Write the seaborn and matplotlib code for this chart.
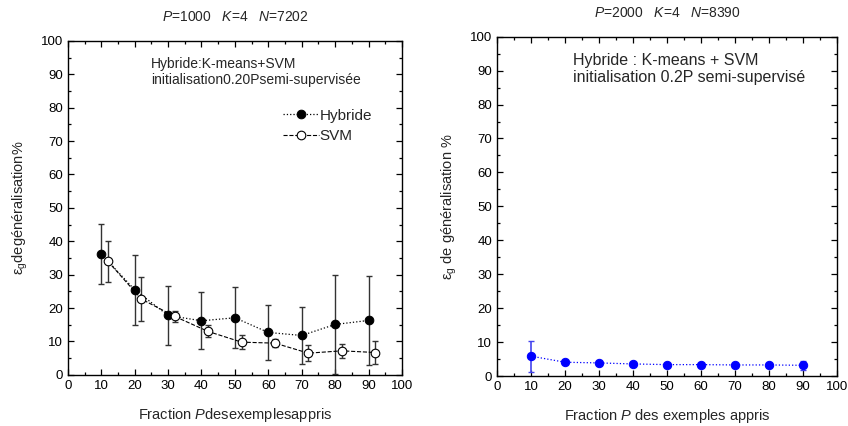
import matplotlib
matplotlib.use("Agg")
import matplotlib.pyplot as plt
import seaborn as sns
import numpy as np
import pandas as pd
from matplotlib.ticker import MultipleLocator

# ---- data ----
frac_hyb = [10, 20, 30, 40, 50, 60, 70, 80, 90]
err_hyb = [36.2, 25.5, 17.8, 16.2, 17.1, 12.7, 11.8, 15.1, 16.3]
sd_hyb = [9.0, 10.5, 8.8, 8.5, 9.1, 8.1, 8.6, 14.7, 13.2]

frac_svm = [12, 22, 32, 42, 52, 62, 72, 82, 92]
err_svm = [34.0, 22.7, 17.5, 13.0, 9.8, 9.5, 6.5, 7.2, 6.7]
sd_svm = [6.1, 6.5, 1.6, 1.8, 2.0, 1.1, 2.4, 2.1, 3.3]

frac_b = [10, 20, 30, 40, 50, 60, 70, 80, 90]
err_b = [5.9, 4.1, 3.9, 3.6, 3.4, 3.4, 3.3, 3.3, 3.2]
sd_b = [4.6, 0.4, 0.4, 0.4, 0.4, 0.4, 0.4, 0.4, 1.4]

sns.set_style("ticks")
plt.rcParams['font.family'] = ['Liberation Sans', 'DejaVu Sans']
plt.rcParams['mathtext.fontset'] = 'custom'
plt.rcParams['mathtext.rm'] = 'Liberation Sans'
plt.rcParams['mathtext.it'] = 'Liberation Sans:italic'

fig = plt.figure(figsize=(8.48, 4.26), dpi=100)
ax1 = fig.add_axes([0.080, 0.120, 0.394, 0.784])
ax2 = fig.add_axes([0.586, 0.117, 0.401, 0.797])


def style(ax):
    ax.set_xlim(0, 100)
    ax.set_ylim(0, 100)
    ax.xaxis.set_major_locator(MultipleLocator(10))
    ax.xaxis.set_minor_locator(MultipleLocator(5))
    ax.yaxis.set_major_locator(MultipleLocator(10))
    ax.yaxis.set_minor_locator(MultipleLocator(5))
    ax.tick_params(which='both', direction='in', top=True, right=True,
                   labelsize=9.5, colors='black', width=0.9)
    ax.tick_params(which='major', length=4)
    ax.tick_params(which='minor', length=2.5)
    for s in ax.spines.values():
        s.set_visible(True)
        s.set_color('black')
        s.set_linewidth(1.0)


# ---- left panel ----
dfh = pd.DataFrame({'x': frac_hyb, 'y': err_hyb})
dfs = pd.DataFrame({'x': frac_svm, 'y': err_svm})
ax1.errorbar(frac_hyb, err_hyb, yerr=sd_hyb, fmt='none', ecolor='#333333',
             elinewidth=1.0, capsize=2, capthick=1.0, zorder=2)
ax1.errorbar(frac_svm, err_svm, yerr=sd_svm, fmt='none', ecolor='#333333',
             elinewidth=1.0, capsize=2, capthick=1.0, zorder=2)
sns.lineplot(data=dfh, x='x', y='y', ax=ax1, color='black', linestyle=':',
             linewidth=0.9, marker='o', markersize=6.2, markerfacecolor='black',
             markeredgecolor='black', label='Hybride', zorder=3)
sns.lineplot(data=dfs, x='x', y='y', ax=ax1, color='black', linestyle='--',
             linewidth=0.8, dashes=(3, 2), marker='o', markersize=6.2,
             markerfacecolor='white', markeredgecolor='black',
             markeredgewidth=0.8, label='SVM', zorder=3)
style(ax1)
ax1.set_xlabel('Fraction $\\mathit{P}$desexemplesappris', fontsize=10.5, labelpad=10)
ax1.set_ylabel('ε$_\\mathrm{g}$degénéralisation%', fontsize=10.5, labelpad=8)
ax1.set_title('$\\mathit{P}$=1000   $\\mathit{K}$=4   $\\mathit{N}$=7202', fontsize=10, pad=14)
ax1.text(25.0, 95.3, 'Hybride:K-means+SVM\ninitialisation0.20Psemi-supervisée',
         fontsize=10, va='top', ha='left', linespacing=1.2)
leg = ax1.legend(loc='upper left', bbox_to_anchor=(0.625, 0.815), frameon=False,
                 fontsize=11, handlelength=2.4, handletextpad=0.0,
                 labelspacing=0.4, borderaxespad=0)

# ---- right panel ----
dfb = pd.DataFrame({'x': frac_b, 'y': err_b})
ax2.errorbar(frac_b, err_b, yerr=sd_b, fmt='none', ecolor='#4444ee',
             elinewidth=1.2, capsize=2, capthick=1.0, zorder=2)
sns.lineplot(data=dfb, x='x', y='y', ax=ax2, color='#0000ff', linestyle=':',
             linewidth=0.9, marker='o', markersize=6, markerfacecolor='#0000ff',
             markeredgecolor='#0000ff', zorder=3)
style(ax2)
ax2.set_xlabel('Fraction $\\mathit{P}$ des exemples appris', fontsize=10.5, labelpad=10)
ax2.set_ylabel('ε$_\\mathrm{g}$ de généralisation %', fontsize=10.5, labelpad=8)
ax2.set_title('$\\mathit{P}$=2000   $\\mathit{K}$=4   $\\mathit{N}$=8390', fontsize=10, pad=14)
ax2.text(22.5, 95.3, 'Hybride : K-means + SVM\ninitialisation 0.2P semi-supervisé',
         fontsize=11.5, va='top', ha='left', linespacing=1.2)

fig.savefig('out.png', dpi=100)
